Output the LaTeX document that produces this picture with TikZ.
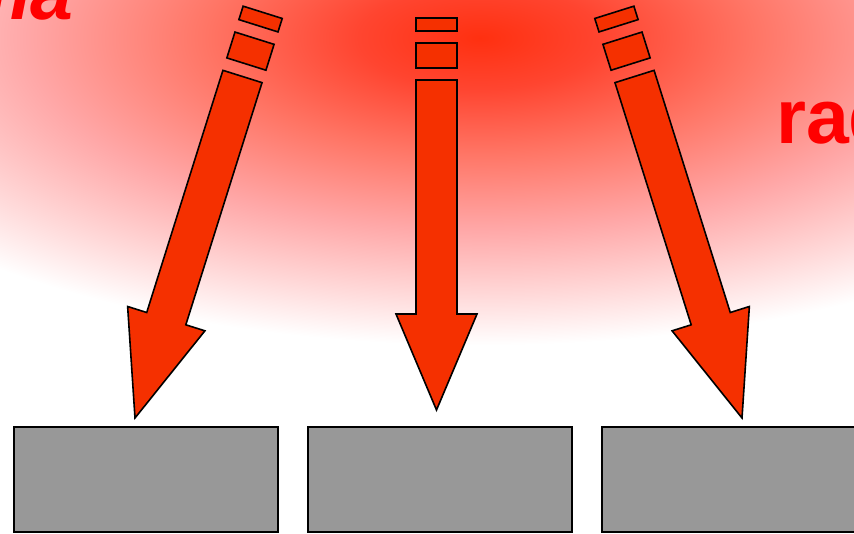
\documentclass[tikz,border=0pt]{standalone}
\usepackage{fontspec}
\setmainfont{Liberation Sans}
\definecolor{glowc}{HTML}{FF3010}
\definecolor{glowa}{HTML}{FF4530}
\definecolor{glowb}{HTML}{FF7565}
\definecolor{glowd}{HTML}{FFA8A8}
\definecolor{glowe}{HTML}{FFD8D8}
\definecolor{arrowred}{HTML}{F53000}
\definecolor{boxgray}{HTML}{989898}
\definecolor{labelred}{HTML}{FF0000}
\pgfdeclareradialshading{glow}{\pgfpoint{0bp}{0bp}}{color(0bp)=(glowc); color(4bp)=(glowa); color(9bp)=(glowb); color(15bp)=(glowd); color(20bp)=(glowe); color(24bp)=(white); color(50bp)=(white)}
\tikzset{
  arrowbody/.style={fill=arrowred, draw=black, line width=1.6pt, line join=miter},
  boxshape/.style={fill=boxgray, draw=black, line width=1.5pt},
  labeltext/.style={text=labelred, inner sep=0pt, font=\fontsize{77}{80}\selectfont\bfseries}
}
\newcommand{\radarrow}[4]{%
  \begin{scope}[shift={(#1,#2)}, rotate=#3, yscale=#4]
    \draw[arrowbody] (0,0) -- (40.5,-96) -- (20.5,-96) -- (20.5,-330) -- (-20.5,-330) -- (-20.5,-96) -- (-40.5,-96) -- cycle;
    \draw[arrowbody] (-20.5,-342) rectangle (20.5,-367);
    \draw[arrowbody] (-20.5,-379) rectangle (20.5,-392);
  \end{scope}}
\begin{document}
\begin{tikzpicture}[x=1pt,y=-1pt]
  \useasboundingbox (0,0) rectangle (854,533);
  \begin{scope}
    \clip (0,0) rectangle (854,533);
    \fill[white] (0,0) rectangle (854,533);
    \shade[shading=glow] (480,38) ellipse [x radius=760, y radius=320];
    \node[labeltext, anchor=base east, font=\fontsize{77}{80}\selectfont\bfseries\itshape] (plasma) at (74,19) {ma};
    \node[labeltext, anchor=base west] (radtext) at (776,143) {rad};
    \radarrow{135}{418}{-17.47}{1.085}
    \radarrow{436.5}{410}{0}{1}
    \radarrow{742}{418}{17.47}{1.085}
    \draw[boxshape] (14,427) rectangle (278,532);
    \draw[boxshape] (308,427) rectangle (572,532);
    \draw[boxshape] (602,427) rectangle (870,532);
  \end{scope}
\end{tikzpicture}
\end{document}
